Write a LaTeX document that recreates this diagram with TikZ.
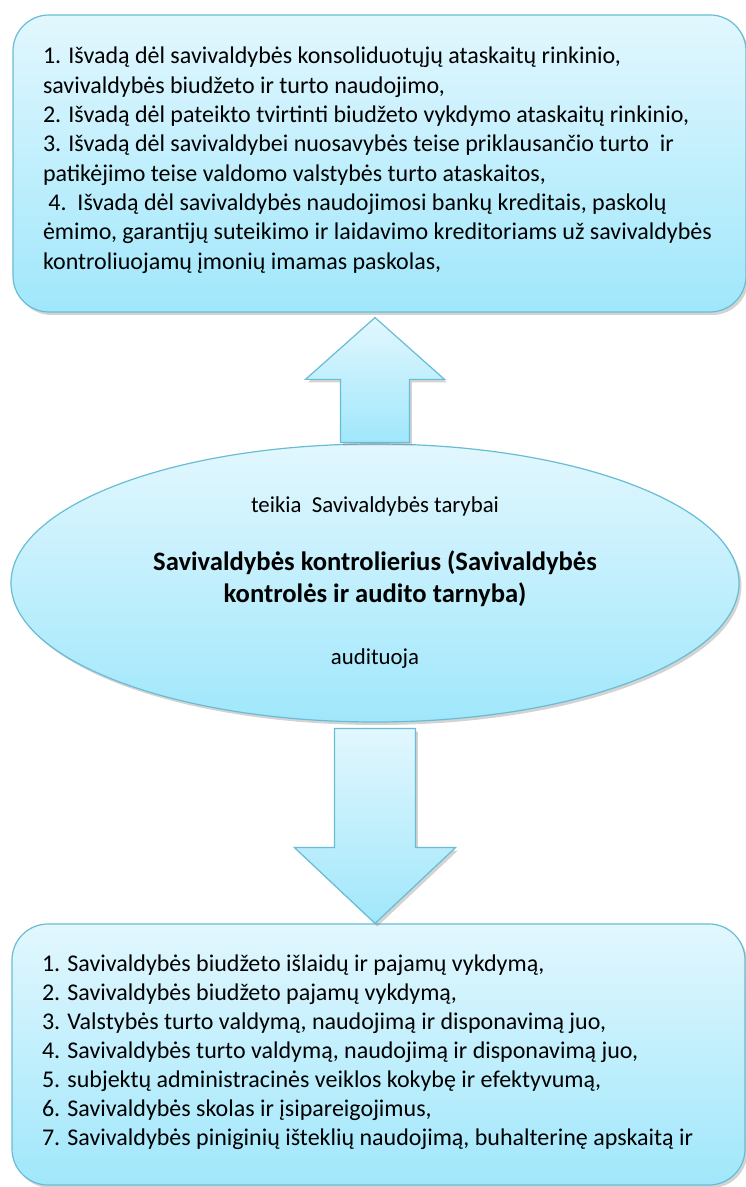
\documentclass[tikz,border=0pt]{standalone}
\usepackage{fontspec}
\setmainfont{Carlito}
\usetikzlibrary{shapes.geometric, shadows, calc}

\definecolor{paletop}{RGB}{226,247,254}
\definecolor{palebottom}{RGB}{160,231,251}
\definecolor{paleedge}{RGB}{104,188,212}

\newcommand{\HubTitle}[1]{{\fontsize{13.3}{16}\selectfont\bfseries #1}}

\tikzset{
  panel/.style={draw=paleedge, line width=0.6pt, rounded corners=18pt,
    top color=paletop, bottom color=palebottom,
    drop shadow={shadow xshift=1.2pt, shadow yshift=-1.5pt, opacity=0.35},
    inner sep=0pt, text width=366.5pt, align=flush left, text height=24.5pt,
    execute at begin node={\leftskip=15pt\spaceskip=0pt\xspaceskip=0pt\relax}},
  hub/.style={ellipse, draw=paleedge, line width=0.6pt,
    top color=paletop, bottom color=palebottom,
    drop shadow={shadow xshift=1.2pt, shadow yshift=-1.5pt, opacity=0.35},
    inner sep=0pt, minimum width=364pt, minimum height=139pt, align=center,
    font=\fontsize{11.4}{16}\selectfont},
  blockarrow/.style={draw=paleedge, line width=0.6pt,
    top color=paletop, bottom color=palebottom,
    drop shadow={shadow xshift=1.2pt, shadow yshift=-1.5pt, opacity=0.35}}
}

\begin{document}
\begin{tikzpicture}[x=0.5pt, y=0.5pt]
    \useasboundingbox (0,0) rectangle (745,1187);

    % Central ellipse
    \node[hub] (ctrl) at (375,604) {teikia\ \ Savivaldybės tarybai\\[13pt]
        \HubTitle{Savivaldybės kontrolierius (Savivaldybės}\\
        \HubTitle{kontrolės ir audito tarnyba)}\\[15pt]
        audituoja};

    % Upper box: conclusions
    \node[panel, text depth=124pt, font=\fontsize{12}{14.65}\selectfont] (findings) at (379.5,1023.5) {%
        1. Išvadą dėl savivaldybės konsoliduotųjų ataskaitų rinkinio,\\
        savivaldybės biudžeto ir turto naudojimo,\\
        2. Išvadą dėl pateikto tvirtinti biudžeto vykdymo ataskaitų rinkinio,\\
        3. Išvadą dėl savivaldybei nuosavybės teise priklausančio turto\ \ ir\\
        patikėjimo teise valdomo valstybės turto ataskaitos,\\
        \ 4.\ \ Išvadą dėl savivaldybės naudojimosi bankų kreditais, paskolų\\
        ėmimo, garantijų suteikimo ir laidavimo kreditoriams už savivaldybės\\
        kontroliuojamų įmonių imamas paskolas,};

    % Lower box: audited areas
    \node[panel, text height=24pt, text depth=106.5pt, font=\fontsize{12}{14.5}\selectfont] (audited) at (378.5,132.5) {%
        1. Savivaldybės biudžeto išlaidų ir pajamų vykdymą,\\
        2. Savivaldybės biudžeto pajamų vykdymą,\\
        3. Valstybės turto valdymą, naudojimą ir disponavimą juo,\\
        4. Savivaldybės turto valdymą, naudojimą ir disponavimą juo,\\
        5. subjektų administracinės veiklos kokybę ir efektyvumą,\\
        6. Savivaldybės skolas ir įsipareigojimus,\\
        7. Savivaldybės piniginių išteklių naudojimą, buhalterinę apskaitą ir};

    % Block arrows
    \draw[blockarrow] ($(ctrl.north)+(-34.5,1)$) -- ++(0,63) -- ++(-35,0)
        -- ($(ctrl.north |- findings.south)+(0,-5)$)
        -- ($(ctrl.north)+(69.5,64)$) -- ++(-35,0) -- ($(ctrl.north)+(34.5,1)$) -- cycle;
    \draw[blockarrow] ($(ctrl.south)+(-40.5,-6)$) -- ++(0,-119) -- ++(-40,0)
        -- (ctrl.south |- audited.north)
        -- ($(ctrl.south)+(80.5,-125)$) -- ++(-40,0) -- ($(ctrl.south)+(40.5,-6)$) -- cycle;
\end{tikzpicture}
\end{document}
